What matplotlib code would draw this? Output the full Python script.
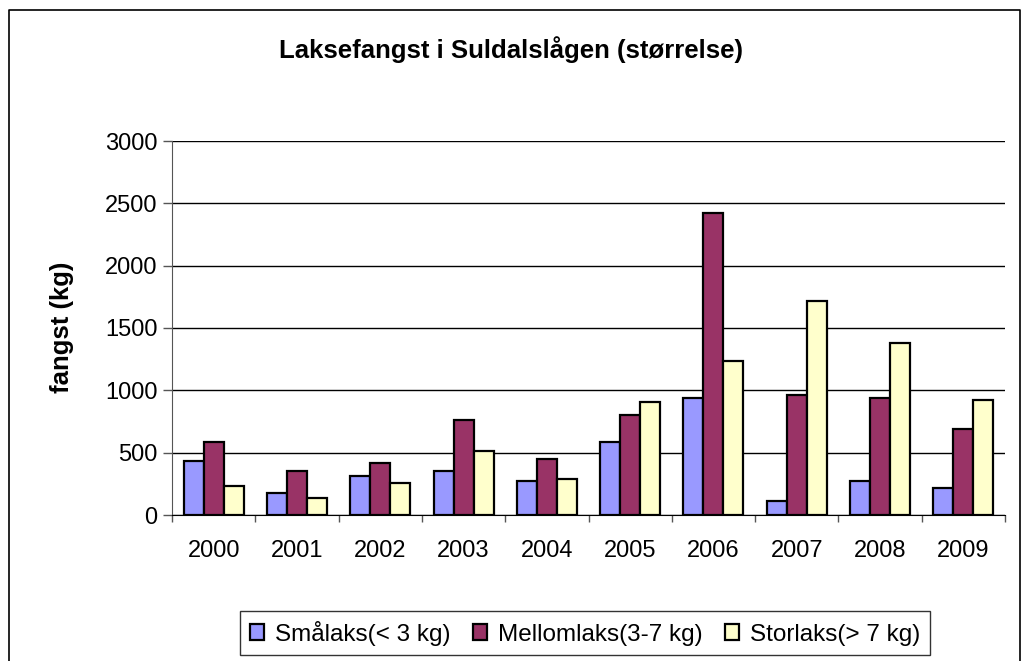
"""Laksefangst i Suldalslågen, grouped bar chart by size class."""

import numpy as np
import matplotlib

matplotlib.use("Agg")
import matplotlib.pyplot as plt
from matplotlib.lines import Line2D

plt.rcParams["font.family"] = ["Liberation Sans", "DejaVu Sans"]

years = ["2000", "2001", "2002", "2003", "2004", "2005", "2006", "2007", "2008", "2009"]
smalaks = [434, 177, 314, 356, 276, 589, 941, 110, 273, 215]
mellomlaks = [589, 356, 415, 766, 453, 804, 2420, 962, 941, 686]
storlaks = [233, 139, 254, 511, 292, 903, 1236, 1713, 1377, 922]

series = [
    ("Smålaks(< 3 kg)", smalaks, "#9999FF"),
    ("Mellomlaks(3-7 kg)", mellomlaks, "#993366"),
    ("Storlaks(> 7 kg)", storlaks, "#FFFFCC"),
]

fig = plt.figure(figsize=(10.23, 6.61), dpi=100)
ax = fig.add_axes([172 / 1023, 1 - 515 / 661, (1005 - 172) / 1023, (515 - 141) / 661])

x = np.arange(len(years))
width = 0.24
for i, (label, values, color) in enumerate(series):
    ax.bar(x + (i - 1) * width, values, width, color=color, edgecolor="black",
           linewidth=1.6, label=label, zorder=3)

ax.set_xlim(-0.5, len(years) - 0.5)
ax.set_ylim(0, 3000)
ax.set_yticks(range(0, 3001, 500))
ax.yaxis.grid(True, color="black", linewidth=1.0, zorder=0)
ax.set_xticks(x)
ax.set_xticklabels(years, fontsize=17)
ax.set_xticks(np.arange(-0.5, len(years)), minor=True)
ax.tick_params(axis="x", which="major", length=0, pad=18)
ax.tick_params(axis="x", which="minor", length=5, width=1.0, color="#555555")
ax.tick_params(axis="y", labelsize=17, length=6.5, width=1.0, pad=4, color="#555555")
for side in ("top", "right"):
    ax.spines[side].set_visible(False)
ax.spines["left"].set_color("#555555")
ax.spines["bottom"].set_color("black")

fig.text(62 / 1023, 1 - 327 / 661, "fangst (kg)", rotation=90, ha="center", va="center",
         fontsize=18.5, fontweight="bold")
fig.text(511 / 1023, 1 - 50 / 661, "Laksefangst i Suldalslågen (størrelse)",
         ha="center", va="center", fontsize=18.5, fontweight="bold")

handles, labels = ax.get_legend_handles_labels()
leg = fig.legend(handles, labels, loc="center", bbox_to_anchor=(585 / 1023, 1 - 633 / 661),
                 ncol=3, fontsize=17.5, frameon=True, fancybox=False, edgecolor="black",
                 handlelength=0.6, handleheight=0.6, handletextpad=0.45, columnspacing=0.9,
                 borderpad=0.4, borderaxespad=0)
leg.get_frame().set_linewidth(1.0)

# outer chart-area border
border = [(9, 700), (9, 10), (1020, 10), (1020, 700)]
bx = [p[0] / 1023 for p in border]
by = [1 - p[1] / 661 for p in border]
fig.add_artist(Line2D(bx, by, color="black", linewidth=1.2, transform=fig.transFigure))

fig.savefig("out.png", dpi=100)
